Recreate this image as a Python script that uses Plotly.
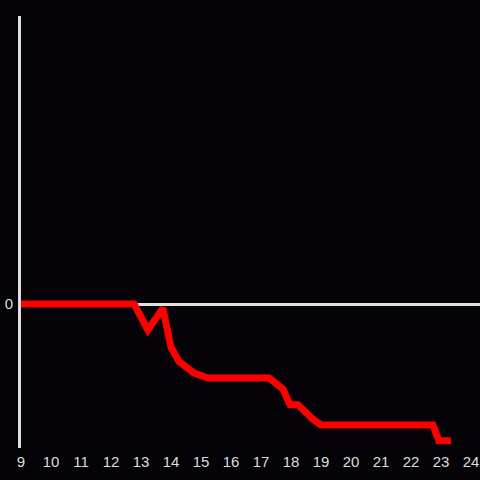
import plotly.graph_objects as go

hours = [9, 12.77, 13.23, 13.73, 14.0, 14.27, 14.77, 15.23, 17.27, 17.73, 17.97, 18.23, 18.73, 19.0, 22.73, 22.93, 23.33]
values = [0, 0, -0.18, -0.03, -0.30, -0.40, -0.48, -0.514, -0.514, -0.59, -0.70, -0.70, -0.80, -0.84, -0.84, -0.95, -0.95]
x_ticks = list(range(9, 25))

fig = go.Figure()
fig.add_trace(go.Scatter(x=hours, y=values, mode="lines",
                         line=dict(color="#ff0000", width=7), hoverinfo="skip"))

fig.update_layout(
    width=480, height=480,
    paper_bgcolor="#050307", plot_bgcolor="#050307",
    margin=dict(l=21, r=0, t=16, b=32),
    showlegend=False,
    font=dict(family="Liberation Sans, Arial", size=15, color="#dddddd"),
    xaxis=dict(range=[9, 24.3], tickvals=x_ticks, ticktext=[str(t) for t in x_ticks],
               showgrid=False, zeroline=False, showline=False, ticks="",
               ticklabelstandoff=3),
    yaxis=dict(range=[-1, 2], tickvals=[0], showgrid=False,
               zeroline=True, zerolinecolor="#e0e0e0", zerolinewidth=3,
               showline=True, linecolor="#e0e0e0", linewidth=3, ticks="",
               ticklabelstandoff=2),
)
fig.write_html("out.html", config={"displayModeBar": False},
               post_script="document.body.style.margin='0';document.body.style.background='#050307';")
